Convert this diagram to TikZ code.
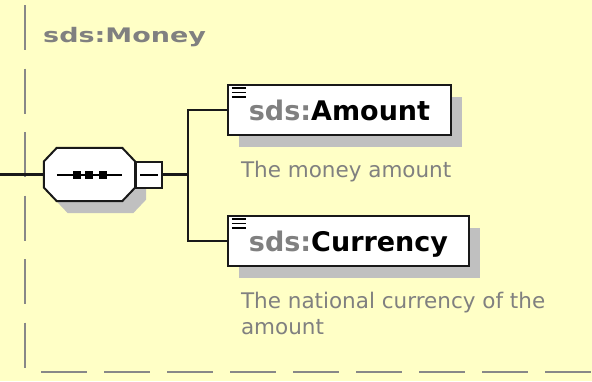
\documentclass[tikz,border=0pt]{standalone}
\usepackage{fontspec}
\setmainfont{DejaVu Sans}
\usetikzlibrary{positioning, calc, shadows}

\definecolor{paper}{RGB}{255,255,198}
\definecolor{xsdgray}{RGB}{128,128,128}
\definecolor{shadowgray}{RGB}{192,192,192}
\definecolor{framegray}{RGB}{136,136,136}

\tikzset{
  conn/.style={line width=2.2pt, black!90},
  elembox/.style={draw=black!90, line width=2.2pt, fill=white, inner xsep=21pt, inner ysep=0pt,
    minimum height=50pt, text height=20pt, text depth=0pt,
    font=\fontsize{27}{32}\selectfont\bfseries,
    drop shadow={shadow xshift=11pt, shadow yshift=-12pt, fill=shadowgray, opacity=1}},
  elemdoc/.style={anchor=north west, inner sep=0pt, align=left, text=xsdgray,
    font=\fontsize{21.5}{26}\selectfont},
  minusbox/.style={draw=black!90, line width=2pt, fill=white, inner sep=0pt, minimum size=26pt},
  groupframe/.style={framegray, line width=2.4pt}
}

\begin{document}
\begin{tikzpicture}[x=1pt, y=-1pt]

\fill[paper] (0,0) rectangle (592,381);
\useasboundingbox (0,0) rectangle (592,381);

% group frame
\draw[groupframe, dash pattern=on 45pt off 18.5pt] (25,5) -- (25,370);
\draw[groupframe, dash pattern=on 46pt off 17pt] (41,372) -- (592,372);
\node[anchor=base west, inner sep=0pt, text=xsdgray, font=\fontsize{20}{24}\selectfont\bfseries] (title) at (43,42) {\scalebox{1.35}[1]{sds:Money}};

% sequence compositor
\node[minimum width=91pt, minimum height=53pt, inner sep=0pt] (seq) at (89.5,174.5) {};
\fill[shadowgray, transform canvas={xshift=11pt, yshift=-12pt}] ($(seq.west)+(0,-13)$) -- ($(seq.north west)+(13,0)$) -- ($(seq.north east)+(-13,0)$) -- ($(seq.east)+(0,-13)$)
  -- ($(seq.east)+(0,13)$) -- ($(seq.south east)+(-13,0)$) -- ($(seq.south west)+(13,0)$) -- ($(seq.west)+(0,13)$) -- cycle;
\draw[line width=2pt, black!90, fill=white] ($(seq.west)+(0,-13)$) -- ($(seq.north west)+(13,0)$) -- ($(seq.north east)+(-13,0)$) -- ($(seq.east)+(0,-13)$)
  -- ($(seq.east)+(0,13)$) -- ($(seq.south east)+(-13,0)$) -- ($(seq.south west)+(13,0)$) -- ($(seq.west)+(0,13)$) -- cycle;
\draw[line width=2pt] ($(seq.west)+(13,0)$) -- ($(seq.east)+(-13,0)$);
\foreach \x in {77,89,103}
  \fill (\x-4,170.5) rectangle +(8,8);

\node[minusbox, right=0pt of seq] (minus) {};
\draw[line width=2pt] ($(minus.west)+(5,0)$) -- ($(minus.east)+(-5,0)$);

% elements
\node[elembox] (amount) at (339.5,110) {\textcolor{xsdgray}{sds:}Amount};
\node[elembox] (currency) at (348.5,241) {\textcolor{xsdgray}{sds:}Currency};
\foreach \b in {amount, currency}
  \foreach \d in {4,8.5,13}
    \draw[line width=1.8pt] ($(\b.north west)+(5,\d)$) -- ++(14,0);

\node[elemdoc] (amountdoc) at ($(amount.south west)+(14,24.5)$) {The money amount};
\node[elemdoc] (currencydoc) at ($(currency.south west)+(14,24.5)$) {The national currency of the\\amount};

% connectors
\coordinate (in) at (0,174.5);
\coordinate (jn) at (188,174.5);
\draw[conn] (in) -- (seq.west);
\draw[conn] (minus.east) -- (jn);
\draw[conn] (jn) |- (amount.west);
\draw[conn] (jn) |- (currency.west);

\end{tikzpicture}
\end{document}
